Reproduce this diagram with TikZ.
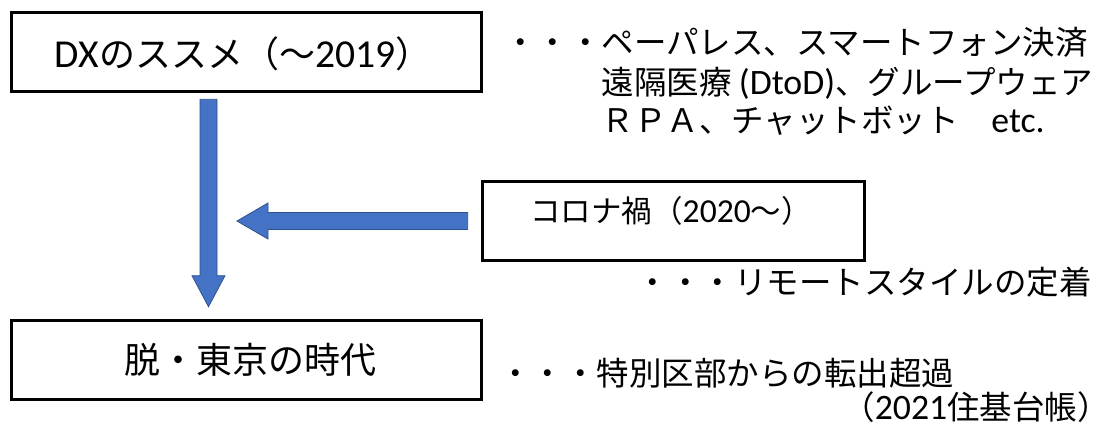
\documentclass[tikz,border=0pt]{standalone}
\usepackage{fontspec}
\setmainfont{Noto Sans CJK JP}
\newfontfamily\lat[Scale=1.1]{Carlito}
\usetikzlibrary{calc}
\definecolor{arrowfill}{HTML}{4472C4}
\definecolor{arrowline}{HTML}{2F528F}
\begin{document}
\begin{tikzpicture}[x=1pt,y=-1pt,
  box/.style={draw=black,line width=2.6pt,inner sep=0pt,minimum width=470pt,minimum height=79pt},
  jtext/.style={inner sep=0pt,font=\fontsize{32.5}{39}\selectfont},
  btext/.style={inner sep=0pt,font=\fontsize{36}{43}\selectfont},
  blockarrow/.style={fill=arrowfill,draw=arrowline,line width=0.8pt,line join=miter}]
\useasboundingbox (0,0) rectangle (1111,428);
\fill[white] (0,0) rectangle (1111,428);
% boxes
\node[box] (dx) at (246.5,52) {};
\node[box,minimum width=382pt] (corona) at (673.5,221) {};
\node[box] (tokyo) at (246.5,360) {};
% box texts
\node[btext,anchor=base] (dxt) at (243,67) {{\lat DX}のススメ（～{\lat 2019}）};
\node[btext,anchor=base,font=\fontsize{30.5}{37}\selectfont] (ct) at (671,222) {コロナ禍（{\lat 2020}～）};
\node[btext,anchor=base] (tt) at (250,373) {脱・東京の時代};
% block arrows
\coordinate (vtop) at ($(dx.south)+(-38,6.5)$);
\coordinate (vtip) at ($(tokyo.north)+(-38,-12.5)$);
\coordinate (hstart) at ($(corona.west)+(-13.5,0)$);
\coordinate (htip) at (237,221);
\draw[blockarrow] ($(vtop)+(-8.5,0)$) -- ($(vtop)+(8.5,0)$) -- ($(vtip)+(8.5,-31)$) -- ($(vtip)+(16.5,-31)$) -- (vtip) -- ($(vtip)+(-16.5,-31)$) -- ($(vtip)+(-8.5,-31)$) -- cycle;
\draw[blockarrow] ($(hstart)+(0,-8.5)$) -- ($(hstart)+(0,8.5)$) -- ($(htip)+(31,8.5)$) -- ($(htip)+(31,18)$) -- (htip) -- ($(htip)+(31,-18)$) -- ($(htip)+(31,-8.5)$) -- cycle;
% side texts
\node[jtext,anchor=base west] (l1) at (504,55) {・・・ペーパレス、スマートフォン決済};
\node[jtext,anchor=base west] (l2) at (601.5,94) {遠隔医療 {\lat (DtoD)}、グループウェア};
\node[jtext,anchor=base west] (l3) at (601.5,132) {ＲＰＡ、チャットボット　{\lat etc.}};
\node[jtext,anchor=base east] (l4) at (1092,294) {・・・リモートスタイルの定着};
\node[jtext,anchor=base west] (l5) at (499,385) {・・・特別区部からの転出超過};
\node[jtext,anchor=base east] (l6) at (1110,419) {（{\lat 2021}住基台帳）};
\end{tikzpicture}
\end{document}
